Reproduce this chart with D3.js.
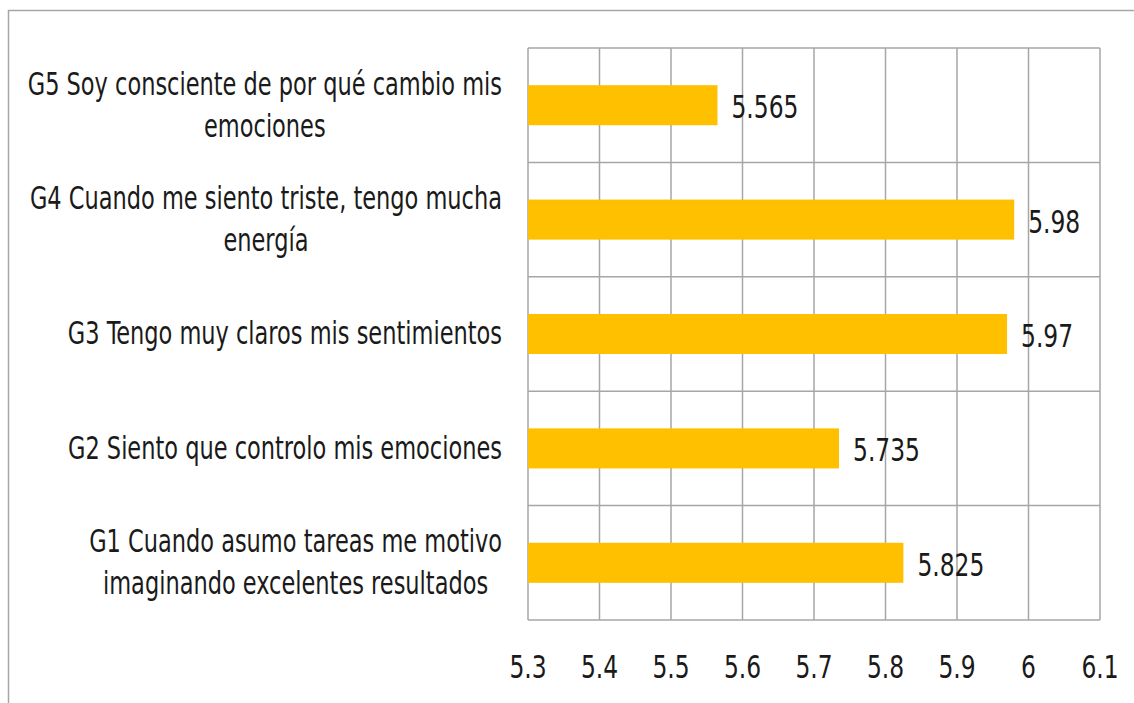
<!DOCTYPE html>
<html>
<head>
<meta charset="utf-8">
<script src="https://cdn.jsdelivr.net/npm/d3@7"></script>
<style>
  body { margin: 0; background: #fff; }
  text { font-family: "Liberation Sans Narrow", "DejaVu Sans Condensed", "Roboto", sans-serif; fill: #1a1a1a; }
</style>
</head>
<body>
<div id="chart"></div>
<script>
// data (top to bottom as drawn)
var categories = ["G5", "G4", "G3", "G2", "G1"];
var labelLines = [
  ["G5 Soy consciente de por qué cambio mis", "emociones"],
  ["G4 Cuando me siento triste, tengo mucha", "energía"],
  ["G3 Tengo muy claros mis sentimientos"],
  ["G2 Siento que controlo mis emociones"],
  ["G1 Cuando asumo tareas me motivo", "imaginando excelentes resultados"]
];
var values = [5.565, 5.98, 5.97, 5.735, 5.825];
var tickValues = [5.3, 5.4, 5.5, 5.6, 5.7, 5.8, 5.9, 6, 6.1];

var svgWidth = 1134;
var svgHeight = 703;
var margin = { top: 48, right: 34, bottom: 83, left: 528 };
var width = svgWidth - margin.left - margin.right;
var height = svgHeight - margin.top - margin.bottom;
var yStretch = 1.25;

var svg = d3.select("#chart")
  .append("svg")
  .attr("width", svgWidth)
  .attr("height", svgHeight);

// outer chart frame (runs off the page on right and bottom)
svg.append("path")
  .attr("d", "M8.5," + svgHeight + " V10.5 H" + svgWidth)
  .attr("fill", "none")
  .attr("stroke", "#a6a6a6")
  .attr("stroke-width", 1.5);

var chartGroup = svg.append("g")
  .attr("transform", `translate(${margin.left}, ${margin.top})`);

var x = d3.scaleLinear()
  .domain([5.3, 6.1])
  .range([0, width]);

var y = d3.scaleBand()
  .domain(categories)
  .range([0, height])
  .padding(0);

// vertical gridlines
chartGroup.selectAll("line.vgrid")
  .data(tickValues)
  .enter()
  .append("line")
  .attr("class", "vgrid")
  .attr("x1", d => x(d))
  .attr("x2", d => x(d))
  .attr("y1", 0)
  .attr("y2", height)
  .attr("stroke", "#a6a6a6")
  .attr("stroke-width", 1.5);

// category separators
var seps = categories.map(c => y(c)).concat([height]);
chartGroup.selectAll("line.hgrid")
  .data(seps)
  .enter()
  .append("line")
  .attr("class", "hgrid")
  .attr("x1", 0)
  .attr("x2", width)
  .attr("y1", d => d)
  .attr("y2", d => d)
  .attr("stroke", "#a6a6a6")
  .attr("stroke-width", 1.5);

// bars
var barH = y.bandwidth() * 0.35;
chartGroup.selectAll("rect.bar")
  .data(values)
  .enter()
  .append("rect")
  .attr("class", "bar")
  .attr("x", 0)
  .attr("y", (d, i) => y(categories[i]) + y.bandwidth() / 2 - barH / 2)
  .attr("width", d => x(d) - x(5.3))
  .attr("height", barH)
  .attr("fill", "#ffc000");

// helper for vertically stretched text
function stretchedText(g, px, py, str, anchor, size) {
  return g.append("text")
    .attr("transform", `translate(${px}, ${py}) scale(1, ${yStretch})`)
    .attr("text-anchor", anchor)
    .attr("dominant-baseline", "central")
    .style("font-size", size + "px")
    .text(str);
}

// value labels
values.forEach(function(v, i) {
  var cy = y(categories[i]) + y.bandwidth() / 2 + 2;
  stretchedText(chartGroup, x(v) + 14, cy, String(v), "start", 26);
});

// category labels: lines centred on each other, block right-aligned
labelLines.forEach(function(lines, i) {
  var cy = y(categories[i]) + y.bandwidth() / 2;
  var lh = 42;
  var nodes = lines.map(function(line, j) {
    var ly = cy + (j - (lines.length - 1) / 2) * lh;
    return stretchedText(chartGroup, 0, ly, line, "middle", 25).attr("data-ly", ly);
  });
  var maxW = d3.max(nodes, n => n.node().getComputedTextLength());
  var cx = -26 - maxW / 2;
  nodes.forEach(function(n) {
    n.attr("transform", `translate(${cx}, ${n.attr("data-ly")}) scale(1, ${yStretch})`);
  });
});

// x tick labels
tickValues.forEach(function(t) {
  stretchedText(chartGroup, x(t), height + 47, d3.format("~g")(t), "middle", 26);
});
</script>
</body>
</html>
